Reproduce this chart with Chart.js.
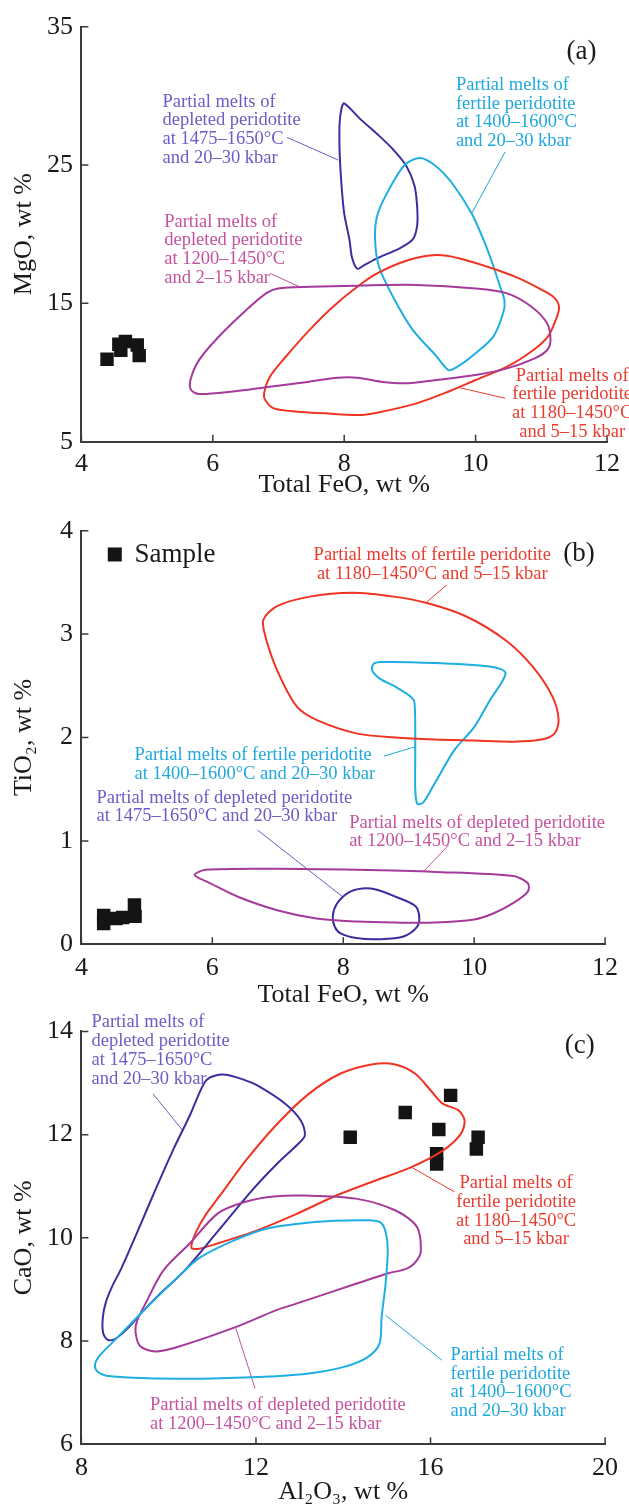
<!DOCTYPE html>
<html lang="en">

<head>
  <meta charset="UTF-8" />
  <title>Partial melts of peridotite vs samples</title>
  <script src="https://cdn.jsdelivr.net/npm/chart.js"></script>
  <style>
    body { margin: 0; background: #fff; overflow: hidden; }
    .panel { position: relative; width: 629px; }
  </style>
</head>

<body>
  <div class="panel" style="height:505px"><canvas id="chartA"></canvas></div>
  <div class="panel" style="height:505px"><canvas id="chartB"></canvas></div>
  <div class="panel" style="height:496px"><canvas id="chartC"></canvas></div>

  <script>
    // ---------- (a) MgO vs total FeO ----------
    const aFeoTicks = [4, 6, 8, 10, 12];
    const aMgoTicks = [5, 15, 25, 35];
    // depleted peridotite, 1475-1650°C, 20-30 kbar
    const aDepletedHot = [[8.0, 29.46], [8.25, 28.3], [8.5, 27.25], [8.75, 26.1], [8.95, 24.9], [9.07, 23.5], [9.11, 22.0],
      [9.11, 20.6], [9.04, 19.6], [8.85, 19.0], [8.5, 18.25], [8.3, 17.75], [8.2, 17.5], [8.12, 18.3], [8.08, 19.6],
      [8.0, 21.5], [7.96, 23.5], [7.93, 26.0], [7.93, 28.0], [7.96, 29.1]];
    // fertile peridotite, 1400-1600°C, 20-30 kbar
    const aFertileHot = [[9.58, 10.2], [9.7, 10.35], [10.0, 11.4], [10.27, 12.6], [10.42, 14.3], [10.44, 15.2], [10.36, 16.4],
      [10.24, 18.1], [10.12, 19.6], [9.94, 21.5], [9.64, 23.7], [9.4, 24.9], [9.16, 25.5], [8.92, 25.0], [8.65, 22.95],
      [8.5, 21.3], [8.47, 19.6], [8.53, 17.65], [8.74, 15.5], [9.04, 13.1], [9.4, 11.2]];
    // depleted peridotite, 1200-1450°C, 2-15 kbar
    const aDepletedCool = [[6.99, 16.08], [7.5, 16.2], [8.2, 16.28], [9.1, 16.33], [10.0, 16.08], [10.48, 15.72], [10.85, 14.76],
      [11.09, 13.55], [11.14, 12.35], [11.09, 11.63], [10.9, 11.02], [10.48, 10.3], [10.0, 9.82], [9.4, 9.46], [8.92, 9.22],
      [8.56, 9.34], [8.2, 9.63], [7.9, 9.63], [7.47, 9.34], [6.87, 8.98], [6.27, 8.61], [5.79, 8.45], [5.67, 8.73],
      [5.66, 9.46], [5.79, 10.9], [6.09, 12.59], [6.51, 14.52], [6.81, 15.72]];
    // fertile peridotite, 1180-1450°C, 5-15 kbar
    const aFertileCool = [[9.4, 18.49], [9.76, 18.25], [10.18, 17.65], [10.6, 16.93], [11.0, 16.0], [11.2, 15.4],
      [11.27, 14.7], [11.22, 13.8], [11.1, 12.6], [10.88, 11.63], [10.48, 10.42], [10.0, 9.46], [9.58, 8.61], [9.1, 7.77],
      [8.5, 7.1], [8.2, 6.93], [7.71, 7.05], [7.29, 7.17], [6.93, 7.41], [6.8, 8.0], [6.78, 8.49], [6.87, 9.7],
      [7.11, 11.14], [7.47, 13.07], [7.83, 14.76], [8.2, 16.2], [8.5, 17.16], [8.98, 18.13]];
    const aSamples = [[4.39, 10.96], [4.57, 12.05], [4.6, 11.6], [4.67, 12.25], [4.85, 11.99], [4.88, 11.22]];
    const aLeadDepletedHot = [[7.13, 27.0], [7.91, 25.36]];
    const aLeadFertileHot = [[10.45, 25.96], [9.94, 21.51]];
    const aLeadDepletedCool = [[6.87, 17.17], [7.32, 16.2]];
    const aLeadFertileCool = [[10.45, 8.14], [9.76, 8.9]];

    // ---------- (b) TiO2 vs total FeO ----------
    const bFeoTicks = [4, 6, 8, 10, 12];
    const bTioTicks = [0, 1, 2, 3, 4];
    const bDepletedHot = [[7.84, 0.27], [7.9, 0.39], [8.08, 0.5], [8.29, 0.54], [8.5, 0.53], [8.8, 0.46], [9.1, 0.37],
      [9.16, 0.27], [9.13, 0.17], [8.92, 0.075], [8.56, 0.049], [8.2, 0.06], [7.96, 0.105], [7.87, 0.17]];
    const bFertileHot = [[10.48, 2.62], [10.24, 2.36], [10.0, 2.1], [9.7, 1.88], [9.4, 1.56], [9.22, 1.37], [9.13, 1.36],
      [9.1, 1.5], [9.1, 1.88], [9.09, 2.33], [9.04, 2.39], [8.8, 2.49], [8.56, 2.57], [8.44, 2.65], [8.46, 2.71],
      [8.56, 2.73], [9.4, 2.72], [10.3, 2.68]];
    const bDepletedCool = [[5.73, 0.67], [5.9, 0.72], [6.99, 0.73], [8.2, 0.72], [9.4, 0.7], [10.6, 0.66], [10.82, 0.59],
      [10.82, 0.51], [10.6, 0.4], [10.3, 0.3], [10.0, 0.24], [9.4, 0.21], [8.8, 0.21], [8.2, 0.22], [7.59, 0.25],
      [6.99, 0.33], [6.39, 0.46], [5.97, 0.59]];
    const bFertileCool = [[6.78, 3.14], [6.99, 3.27], [7.47, 3.36], [8.14, 3.4], [8.8, 3.36], [9.28, 3.3], [9.88, 3.17],
      [10.48, 2.94], [10.9, 2.68], [11.2, 2.39], [11.29, 2.17], [11.23, 2.04], [11.03, 1.98], [10.6, 1.96], [10.0, 1.97],
      [9.4, 1.98], [8.8, 2.0], [8.2, 2.04], [7.59, 2.17], [7.29, 2.3], [6.99, 2.65], [6.81, 2.98]];
    const bSamples = [[4.34, 0.28], [4.34, 0.2], [4.53, 0.25], [4.63, 0.26], [4.81, 0.38], [4.82, 0.27]];
    const bLeadDepletedHot = [[6.69, 1.105], [7.99, 0.46]];
    const bLeadFertileHot = [[8.62, 1.82], [9.1, 1.91]];
    const bLeadDepletedCool = [[9.61, 0.96], [9.22, 0.7]];
    const bLeadFertileCool = [[9.58, 3.475], [9.28, 3.313]];

    // ---------- (c) CaO vs Al2O3 ----------
    const cAlTicks = [8, 12, 16, 20];
    const cCaoTicks = [6, 8, 10, 12, 14];
    const cDepletedHot = [[13.12, 11.98], [12.94, 11.8], [12.5, 11.45], [11.91, 10.92], [11.1, 10.1], [10.37, 9.37],
      [9.77, 8.89], [9.39, 8.56], [9.09, 8.27], [8.79, 8.05], [8.61, 8.02], [8.5, 8.15], [8.49, 8.45], [8.56, 8.75],
      [8.7, 9.05], [8.91, 9.4], [9.3, 10.15], [9.69, 10.92], [10.1, 11.7], [10.5, 12.4], [10.7, 12.8], [10.86, 13.05],
      [11.05, 13.14], [11.31, 13.16], [11.7, 13.07], [12.04, 12.95], [12.67, 12.6], [13.03, 12.27]];
    const cFertileHot = [[14.97, 10.12], [15.02, 9.76], [14.97, 9.11], [14.88, 8.47], [14.83, 7.95], [14.56, 7.69],
      [14.02, 7.5], [13.21, 7.37], [12.47, 7.32], [11.2, 7.28], [10.22, 7.27], [9.2, 7.29], [8.57, 7.33], [8.38, 7.4],
      [8.31, 7.53], [8.4, 7.7], [8.72, 7.98], [9.39, 8.56], [10.37, 9.37], [10.74, 9.63], [11.5, 9.95], [12.25, 10.18],
      [12.92, 10.27], [13.8, 10.33], [14.56, 10.34], [14.85, 10.3]];
    const cDepletedCool = [[15.78, 9.76], [15.69, 9.57], [15.47, 9.41], [15.01, 9.31], [14.29, 9.11], [12.94, 8.73],
      [12.47, 8.6], [11.53, 8.27], [10.22, 7.89], [9.7, 7.8], [9.35, 7.9], [9.24, 8.18], [9.28, 8.4], [9.47, 8.73],
      [9.88, 9.37], [10.48, 9.89], [11.12, 10.47], [11.72, 10.69], [12.4, 10.8], [13.12, 10.82], [14.29, 10.76],
      [15.2, 10.53], [15.69, 10.21]];
    const cFertileCool = [[10.52, 9.81], [10.62, 10.1], [10.85, 10.45], [11.22, 10.87], [11.77, 11.5], [12.49, 12.21],
      [13.21, 12.79], [13.93, 13.18], [14.65, 13.36], [15.19, 13.36], [15.65, 13.18], [16.01, 12.85], [16.28, 12.6],
      [16.64, 12.47], [16.78, 12.27], [16.69, 12.01], [16.28, 11.69], [15.56, 11.37], [14.74, 11.11], [13.84, 10.82],
      [12.92, 10.46], [12.04, 10.15], [11.12, 9.89], [10.7, 9.79]];
    const cSamples = [[14.16, 11.95], [15.42, 12.43], [16.46, 12.76], [16.19, 12.1], [16.14, 11.63], [16.14, 11.43],
      [17.09, 11.95], [17.05, 11.72]];
    const cLeadDepletedHot = [[9.64, 12.79], [10.32, 12.08]];
    const cLeadFertileHot = [[16.26, 7.63], [14.97, 8.5]];
    const cLeadDepletedCool = [[11.98, 7.08], [11.53, 8.27]];
    const cLeadFertileCool = [[16.55, 10.89], [15.56, 11.37]];

    const FONT = "'Liberation Serif', 'Times New Roman', serif";
    const INK = '#1a1a1a';
    const AXIS = '#3a3a3a';
    const LINE_GAP = 18.8;

    // line colour / label colour per field
    const depletedHot = { line: '#3b2e9e', text: '#6b5cc6' };
    const fertileHot = { line: '#1eaee2', text: '#1fa8dc' };
    const depletedCool = { line: '#a63a9b', text: '#c4529f' };
    const fertileCool = { line: '#ef3423', text: '#ea3b2e' };

    const toXY = pts => pts.map(([x, y]) => ({ x, y }));

    function field(points, c) {
      return {
        data: toXY(points), closed: true,
        showLine: true, borderColor: c.line, borderWidth: 2,
        pointRadius: 0, tension: 0.3, fill: false
      };
    }

    function leader(points, c) {
      return {
        data: toXY(points), showLine: true, borderColor: c.text,
        borderWidth: 1, pointRadius: 0, tension: 0
      };
    }

    function samples(points) {
      return {
        data: toXY(points), showLine: false, pointStyle: 'rect',
        pointRadius: 9.5, backgroundColor: '#141414', borderWidth: 0
      };
    }

    // field outlines are closed curves: let the line element loop like a radar line
    const loopPlugin = {
      id: 'loops',
      afterDatasetsUpdate(chart) {
        chart.data.datasets.forEach((ds, i) => {
          if (!ds.closed) return;
          const line = chart.getDatasetMeta(i).dataset;
          line._loop = true;
          line._fullLoop = true;
        });
      }
    };

    // inward ticks, panel tag, field labels, sample key
    const notesPlugin = {
      id: 'notes',
      afterDraw(chart, args, opts) {
        const { ctx, scales: { x, y } } = chart;
        ctx.save();
        ctx.strokeStyle = AXIS;
        ctx.lineWidth = 1.5;
        ctx.beginPath();
        x.ticks.forEach(t => {
          const px = x.getPixelForValue(t.value);
          ctx.moveTo(px, y.bottom);
          ctx.lineTo(px, y.bottom - 7);
        });
        y.ticks.forEach(t => {
          const py = y.getPixelForValue(t.value);
          ctx.moveTo(x.left, py);
          ctx.lineTo(x.left + 7, py);
        });
        ctx.stroke();

        ctx.textBaseline = 'middle';
        ctx.font = '18.5px ' + FONT;
        opts.texts.forEach(n => {
          ctx.fillStyle = n.color;
          ctx.textAlign = n.align;
          const px = x.getPixelForValue(n.x);
          const py = y.getPixelForValue(n.y);
          n.lines.forEach((s, i) => ctx.fillText(s, px, py + i * LINE_GAP));
        });

        ctx.font = '27px ' + FONT;
        ctx.fillStyle = INK;
        ctx.textAlign = 'right';
        ctx.fillText(opts.tag.text, x.getPixelForValue(opts.tag.x), y.getPixelForValue(opts.tag.y));

        if (opts.key) {
          const kx = x.getPixelForValue(opts.key.x);
          const ky = y.getPixelForValue(opts.key.y);
          ctx.fillStyle = '#141414';
          ctx.fillRect(kx - 7, ky - 7, 14, 14);
          ctx.fillStyle = INK;
          ctx.textAlign = 'left';
          ctx.fillText('Sample', x.getPixelForValue(opts.key.tx), ky);
        }
        ctx.restore();
      }
    };

    function axis(ticks, title, fitSize, tickPad, titlePad, horizontal) {
      return {
        type: 'linear',
        min: ticks[0],
        max: ticks[ticks.length - 1],
        afterBuildTicks: s => { s.ticks = ticks.map(v => ({ value: v })); },
        afterFit: s => { if (horizontal) s.height = fitSize; else s.width = fitSize; },
        grid: { display: false, drawTicks: false, tickLength: 0 },
        border: { display: true, color: AXIS, width: 2 },
        ticks: {
          color: INK, padding: tickPad, maxRotation: 0, autoSkip: false,
          font: { family: FONT, size: 26, lineHeight: 1 }
        },
        title: {
          display: true, text: title, color: INK,
          font: { family: FONT, size: 26, lineHeight: 1 },
          padding: horizontal ? { top: 0, bottom: titlePad } : { top: titlePad, bottom: 0 }
        }
      };
    }

    function makeChart(id, cfg) {
      new Chart(document.getElementById(id), {
        type: 'scatter',
        data: { datasets: cfg.datasets },
        options: {
          responsive: true,
          maintainAspectRatio: false,
          animation: false,
          layout: { padding: { top: cfg.top, right: 14.5, bottom: 0, left: 0 } },
          plugins: { legend: { display: false }, tooltip: { enabled: false }, notes: cfg.notes },
          scales: {
            x: axis(cfg.xTicks, cfg.xTitle, cfg.xHeight, cfg.xTickPad, cfg.xTitlePad, true),
            y: axis(cfg.yTicks, cfg.yTitle, 81.4, 8.4, 11, false)
          }
        },
        plugins: [loopPlugin, notesPlugin]
      });
    }

    makeChart('chartA', {
      top: 26.7, xHeight: 63.3, xTickPad: 9, xTitlePad: 7,
      xTicks: aFeoTicks, yTicks: aMgoTicks,
      xTitle: 'Total FeO, wt %', yTitle: 'MgO, wt %',
      datasets: [
        field(aDepletedCool, depletedCool),
        field(aFertileCool, fertileCool),
        field(aFertileHot, fertileHot),
        field(aDepletedHot, depletedHot),
        leader(aLeadDepletedHot, depletedHot),
        leader(aLeadFertileHot, fertileHot),
        leader(aLeadDepletedCool, depletedCool),
        leader(aLeadFertileCool, fertileCool),
        samples(aSamples)
      ],
      notes: {
        tag: { text: '(a)', x: 11.84, y: 33.19 },
        texts: [
          { x: 5.235, y: 29.58, align: 'left', color: depletedHot.text,
            lines: ['Partial melts of', 'depleted peridotite', 'at 1475–1650°C', 'and 20–30 kbar'] },
          { x: 9.7, y: 30.79, align: 'left', color: fertileHot.text,
            lines: ['Partial melts of', 'fertile peridotite', 'at 1400–1600°C', 'and 20–30 kbar'] },
          { x: 5.26, y: 20.9, align: 'left', color: depletedCool.text,
            lines: ['Partial melts of', 'depleted peridotite', 'at 1200–1450°C', 'and 2–15 kbar'] },
          { x: 11.47, y: 9.77, align: 'center', color: fertileCool.text,
            lines: ['Partial melts of', 'fertile peridotite', 'at 1180–1450°C', 'and 5–15 kbar'] }
        ]
      }
    });

    makeChart('chartB', {
      top: 25.7, xHeight: 65.7, xTickPad: 10.9, xTitlePad: 2,
      xTicks: bFeoTicks, yTicks: bTioTicks,
      xTitle: 'Total FeO, wt %', yTitle: 'TiO₂, wt %',
      datasets: [
        field(bFertileCool, fertileCool),
        field(bFertileHot, fertileHot),
        field(bDepletedCool, depletedCool),
        field(bDepletedHot, depletedHot),
        leader(bLeadDepletedHot, depletedHot),
        leader(bLeadFertileHot, fertileHot),
        leader(bLeadDepletedCool, depletedCool),
        leader(bLeadFertileCool, fertileCool),
        samples(bSamples)
      ],
      notes: {
        tag: { text: '(b)', x: 11.84, y: 3.775 },
        key: { x: 4.51, y: 3.77, tx: 4.81 },
        texts: [
          { x: 9.36, y: 3.765, align: 'center', color: fertileCool.text,
            lines: ['Partial melts of fertile peridotite', 'at 1180–1450°C and 5–15 kbar'] },
          { x: 4.81, y: 1.83, align: 'left', color: fertileHot.text,
            lines: ['Partial melts of fertile peridotite', 'at 1400–1600°C and 20–30 kbar'] },
          { x: 4.23, y: 1.418, align: 'left', color: depletedHot.text,
            lines: ['Partial melts of depleted peridotite', 'at 1475–1650°C and 20–30 kbar'] },
          { x: 8.09, y: 1.176, align: 'left', color: depletedCool.text,
            lines: ['Partial melts of depleted peridotite', 'at 1200–1450°C and 2–15 kbar'] }
        ]
      }
    });

    makeChart('chartC', {
      top: 20.7, xHeight: 61.7, xTickPad: 10.9, xTitlePad: 1,
      xTicks: cAlTicks, yTicks: cCaoTicks,
      xTitle: 'Al₂O₃, wt %', yTitle: 'CaO, wt %',
      datasets: [
        field(cFertileHot, fertileHot),
        field(cDepletedCool, depletedCool),
        field(cDepletedHot, depletedHot),
        field(cFertileCool, fertileCool),
        leader(cLeadDepletedHot, depletedHot),
        leader(cLeadFertileHot, fertileHot),
        leader(cLeadDepletedCool, depletedCool),
        leader(cLeadFertileCool, fertileCool),
        samples(cSamples)
      ],
      notes: {
        tag: { text: '(c)', x: 19.76, y: 13.72 },
        texts: [
          { x: 8.23, y: 14.17, align: 'left', color: depletedHot.text,
            lines: ['Partial melts of', 'depleted peridotite', 'at 1475–1650°C', 'and 20–30 kbar'] },
          { x: 17.96, y: 11.06, align: 'center', color: fertileCool.text,
            lines: ['Partial melts of', 'fertile peridotite', 'at 1180–1450°C', 'and 5–15 kbar'] },
          { x: 9.57, y: 6.76, align: 'left', color: depletedCool.text,
            lines: ['Partial melts of depleted peridotite', 'at 1200–1450°C and 2–15 kbar'] },
          { x: 16.46, y: 7.73, align: 'left', color: fertileHot.text,
            lines: ['Partial melts of', 'fertile peridotite', 'at 1400–1600°C', 'and 20–30 kbar'] }
        ]
      }
    });
  </script>
</body>

</html>
